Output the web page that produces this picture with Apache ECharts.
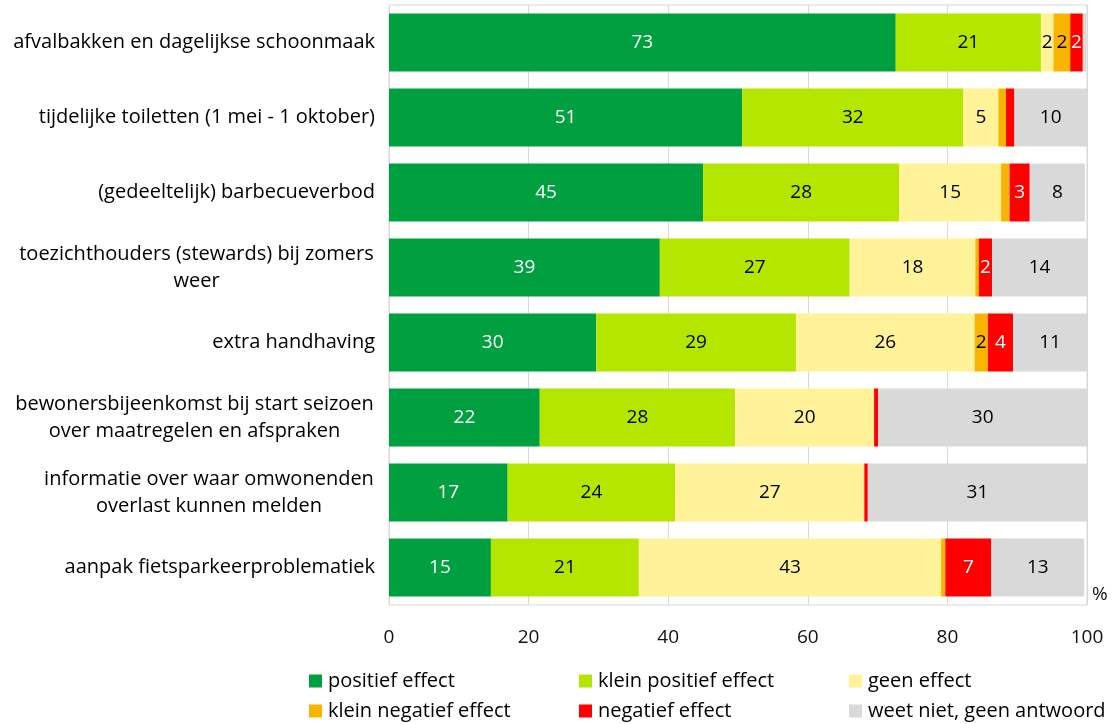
<!DOCTYPE html>
<html>
<head>
<meta charset="utf-8">
<script src="https://cdn.jsdelivr.net/npm/echarts@6/dist/echarts.min.js"></script>
<style>
html,body{margin:0;padding:0;background:#fff;}
#chart{width:1119px;height:724px;}
</style>
</head>
<body>
<div id="chart"></div>
<script>
const categories = [
  "afvalbakken en dagelijkse schoonmaak",
  "tijdelijke toiletten (1 mei - 1 oktober)",
  "(gedeeltelijk) barbecueverbod",
  "toezichthouders (stewards) bij zomers\nweer",
  "extra handhaving",
  "bewonersbijeenkomst bij start seizoen\nover maatregelen en afspraken",
  "informatie over waar omwonenden\noverlast kunnen melden",
  "aanpak fietsparkeerproblematiek"
];
const seriesNames = ["positief effect", "klein positief effect", "geen effect", "klein negatief effect", "negatief effect", "weet niet, geen antwoord"];
const positief      = [72.6, 50.6, 45.0, 38.8, 29.7, 21.6, 17.0, 14.6];
const kleinPositief = [20.8, 31.7, 28.1, 27.2, 28.6, 28.0, 24.0, 21.2];
const geen          = [1.8, 5.0, 14.6, 18.0, 25.6, 19.9, 27.1, 43.3];
const kleinNegatief = [2.4, 1.1, 1.2, 0.5, 1.9, 0, 0, 0.6];
const negatief      = [1.8, 1.2, 2.9, 1.9, 3.6, 0.6, 0.5, 6.6];
const weetNiet      = [0.5, 10.4, 7.9, 13.6, 10.6, 29.9, 31.4, 13.3];
const xTicks = [0, 20, 40, 60, 80, 100];

const seriesValues = [positief, kleinPositief, geen, kleinNegatief, negatief, weetNiet];
const colors = ["#00A040", "#B5E600", "#FFF299", "#F8B400", "#FF0000", "#D9D9D9"];
const labelColors = ["#ffffff", "#000000", "#000000", "#000000", "#ffffff", "#000000"];

const FONT = "Open Sans";
const FS = 20;   // category + legend text
const NFS = 19;  // numbers

// measure widest line for centered multi-line category labels
const cv = document.createElement('canvas').getContext('2d');
cv.font = FS + 'px "' + FONT + '"';
const rich = {};
categories.forEach((c, i) => {
  const lines = c.split('\n');
  const w = Math.max(...lines.map(l => cv.measureText(l).width));
  rich['c' + i] = { width: Math.ceil(w) + 2, align: 'center', fontSize: FS, fontFamily: FONT, color: '#000', lineHeight: 27 };
});

const chart = echarts.init(document.getElementById('chart'), null, { renderer: 'canvas' });

const legendPos = [[309, 671], [579, 671], [849, 671], [309, 701], [579, 701], [849, 701]];
const legends = seriesNames.map((n, i) => ({
  data: [n],
  left: legendPos[i][0],
  top: legendPos[i][1],
  padding: 0,
  icon: 'rect',
  itemWidth: 13,
  itemHeight: 13,
  selectedMode: false,
  textStyle: { fontSize: FS, fontFamily: FONT, color: '#000', padding: [0, 0, 0, 1] }
}));

chart.setOption({
  animation: false,
  backgroundColor: '#fff',
  color: colors,
  textStyle: { fontFamily: FONT },
  grid: { left: 389, right: 32, top: 5, bottom: 119, show: true, borderColor: '#D9D9D9', borderWidth: 1, containLabel: false },
  legend: legends,
  xAxis: {
    type: 'value', min: xTicks[0], max: xTicks[xTicks.length - 1], interval: 20,
    axisLine: { show: false }, axisTick: { show: false },
    splitLine: { show: true, lineStyle: { color: '#D9D9D9', width: 1 } },
    axisLabel: { fontSize: NFS, fontFamily: FONT, color: '#111', margin: 23 },
    name: '%', nameLocation: 'end', nameGap: 5,
    nameTextStyle: { fontSize: NFS, fontFamily: FONT, color: '#111', verticalAlign: 'bottom', lineHeight: 20 }
  },
  yAxis: {
    type: 'category', data: categories, inverse: true,
    axisLine: { show: false }, axisTick: { show: false },
    axisLabel: {
      margin: 14, fontSize: FS, fontFamily: FONT, color: '#000', lineHeight: 27,
      formatter: (v, i) => v.indexOf('\n') >= 0 ? v.split('\n').map(l => '{c' + i + '|' + l + '}').join('\n') : v,
      rich: rich
    }
  },
  series: seriesNames.map((n, si) => ({
    name: n, type: 'bar', stack: 'total', barWidth: 58,
    data: seriesValues[si],
    itemStyle: { color: colors[si] },
    label: {
      show: true, position: 'inside', color: labelColors[si], fontSize: NFS, fontFamily: FONT,
      formatter: p => p.value >= 1.5 ? String(Math.round(p.value)) : ''
    },
    emphasis: { disabled: true }
  }))
});
</script>
</body>
</html>
